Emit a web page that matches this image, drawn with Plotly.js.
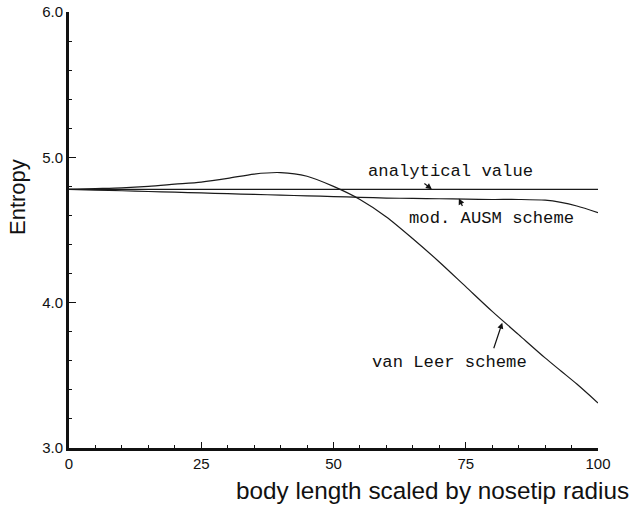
<!DOCTYPE html>
<html>
<head>
<meta charset="utf-8">
<script src="https://cdn.plot.ly/plotly-3.0.1.min.js"></script>
<style>html,body{margin:0;padding:0;background:#fff;}#chart{width:633px;height:506px;}</style>
</head>
<body>
<div id="chart"></div>
<script>
var xPos = [0, 5, 10, 15, 20, 25, 30, 35, 40, 45, 50, 55, 60, 65, 70, 75, 80, 85, 90, 93, 96, 100];
var analytical = [4.78, 4.78, 4.78, 4.78, 4.78, 4.78, 4.78, 4.78, 4.78, 4.78, 4.78, 4.78, 4.78, 4.78, 4.78, 4.78, 4.78, 4.78, 4.78, 4.78, 4.78, 4.78];
var ausm = [4.78, 4.775, 4.77, 4.765, 4.76, 4.755, 4.75, 4.745, 4.74, 4.735, 4.73, 4.725, 4.72, 4.717, 4.715, 4.712, 4.71, 4.71, 4.705, 4.69, 4.665, 4.62];
var vanLeer = [4.78, 4.785, 4.79, 4.80, 4.815, 4.83, 4.855, 4.885, 4.895, 4.87, 4.80, 4.71, 4.59, 4.44, 4.28, 4.11, 3.94, 3.78, 3.62, 3.53, 3.44, 3.31];
var xTicks = [0, 25, 50, 75, 100];
var yTicks = [3.0, 4.0, 5.0, 6.0];
var labels = ["analytical value", "mod. AUSM scheme", "van Leer scheme"];
var xTitle = "body length scaled by nosetip radius";
var yTitle = "Entropy";

var lineStyle = {color: '#1a1a1a', width: 1.2, shape: 'spline', smoothing: 0.8};
var traces = [
  {x: xPos, y: analytical, mode: 'lines', line: {color: '#1a1a1a', width: 1.2}, name: labels[0]},
  {x: xPos, y: ausm, mode: 'lines', line: lineStyle, name: labels[1]},
  {x: xPos, y: vanLeer, mode: 'lines', line: lineStyle, name: labels[2]}
];

var mono = {family: 'Liberation Mono, Courier New, monospace', size: 17.2, color: '#111'};
var arrow = function(x, y, ax, ay) {
  return {x: x, y: y, ax: ax, ay: ay, xref: 'x', yref: 'y', axref: 'x', ayref: 'y',
    text: '', showarrow: true, arrowhead: 2, arrowsize: 1, arrowwidth: 1.2, arrowcolor: '#111'};
};

var plotW = 633 - 69 - 35, plotH = 448 - 12;
var sans = 'Liberation Sans, Arial, sans-serif';

var layout = {
  width: 633, height: 506,
  margin: {l: 69, r: 35, t: 12, b: 58},
  paper_bgcolor: '#fff', plot_bgcolor: '#fff',
  showlegend: false,
  font: {family: sans, size: 13, color: '#111'},
  xaxis: {
    range: [0, 100], tickvals: xTicks, ticktext: xTicks.map(String),
    ticks: 'inside', ticklen: 6, tickwidth: 1.2, tickcolor: '#111',
    minor: {dtick: 5, ticks: 'inside', ticklen: 3, tickwidth: 1, tickcolor: '#111'},
    showline: true, linewidth: 3, linecolor: '#111', showgrid: false, zeroline: false,
    tickfont: {size: 15}
  },
  yaxis: {
    range: [3, 6], tickvals: yTicks, ticktext: yTicks.map(function(v){return v.toFixed(1);}),
    ticks: 'inside', ticklen: 7, tickwidth: 1.2, tickcolor: '#111',
    minor: {dtick: 0.2, ticks: 'inside', ticklen: 3, tickwidth: 1, tickcolor: '#111'},
    showline: true, linewidth: 3, linecolor: '#111', showgrid: false, zeroline: false,
    tickfont: {size: 15}
  },
  annotations: [
    {x: 72.2, y: 4.90, xref: 'x', yref: 'y', text: labels[0], showarrow: false, font: mono},
    {x: 79.8, y: 4.58, xref: 'x', yref: 'y', text: labels[1], showarrow: false, font: mono},
    {x: 72.0, y: 3.59, xref: 'x', yref: 'y', text: labels[2], showarrow: false, font: mono},
    arrow(68.6, 4.78, 66.9, 4.828),
    arrow(73.7, 4.717, 74.5, 4.655),
    arrow(81.9, 3.862, 80.2, 3.676),
    {x: (631 - 69) / plotW, y: (448 - 491) / plotH, xref: 'paper', yref: 'paper', xanchor: 'right', yanchor: 'middle',
      text: xTitle, showarrow: false, font: {family: sans, size: 24.3, color: '#111'}},
    {x: (18 - 69) / plotW, y: (448 - 197) / plotH, xref: 'paper', yref: 'paper', xanchor: 'center', yanchor: 'middle',
      text: yTitle, textangle: -90, showarrow: false, font: {family: sans, size: 22, color: '#111'}}
  ]
};

Plotly.newPlot('chart', traces, layout, {displayModeBar: false, staticPlot: true});
</script>
</body>
</html>
